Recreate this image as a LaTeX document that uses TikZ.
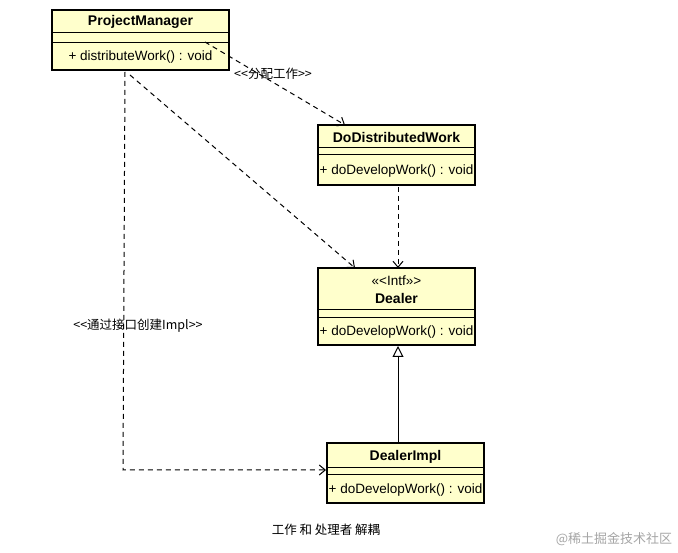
\documentclass[tikz,border=0pt]{standalone}
\usepackage{fontspec}
\setmainfont{Liberation Sans}
\newfontfamily\cjk{Noto Sans CJK SC}
\usetikzlibrary{arrows.meta}
\tikzset{
  cls/.style={draw=black, line width=2pt, fill=umlfill, rectangle, inner sep=0pt},
  nm/.style={font=\fontsize{14}{16}\selectfont\bfseries},
  op/.style={font=\fontsize{13.5}{16}\selectfont},
  dep/.style={line width=1pt, dash pattern=on 5pt off 4pt, -{Straight Barb[length=6pt,width=10pt]}},
  inh/.style={line width=1pt, -{Triangle[open,length=11pt,width=11pt]}},
  lbl/.style={font=\fontsize{12.5}{15}\cjk}
}
\definecolor{umlfill}{RGB}{255,255,204}
\begin{document}
\begin{tikzpicture}[x=1pt,y=-1pt]
\useasboundingbox[fill=white] (0,0) rectangle (678,553);
% ProjectManager
\node[cls, minimum width=177, minimum height=60] (pm) at (140.5,40) {};
\draw[line width=1pt] (52,33) -- (229,33) (52,43) -- (229,43);
\node[nm] (pmn) at (140.5,22) {ProjectManager};
\node[op] (pmo) at (140.5,57) {+ distributeWork() : void};
% DoDistributedWork
\node[cls, minimum width=157, minimum height=60] (dw) at (396.5,155) {};
\draw[line width=1pt] (318,148) -- (475,148) (318,155) -- (475,155);
\node[nm] (dwn) at (396.5,137) {DoDistributedWork};
\node[op] (dwo) at (396.5,171) {+ doDevelopWork() : void};
% Dealer
\node[cls, minimum width=157, minimum height=77] (dl) at (396.5,306.5) {};
\draw[line width=1pt] (318,310) -- (475,310) (318,318) -- (475,318);
\node[op] (dls) at (396.5,281) {\textless\textless\textless Intf\textgreater\textgreater\textgreater};
\node[nm] (dln) at (396.5,298) {Dealer};
\node[op] (dlo) at (396.5,332) {+ doDevelopWork() : void};
% DealerImpl
\node[cls, minimum width=157, minimum height=60] (di) at (405.5,473) {};
\draw[line width=1pt] (327,468) -- (484,468) (327,475) -- (484,475);
\node[nm] (din) at (405.5,457) {DealerImpl};
\node[op] (dio) at (405.5,490) {+ doDevelopWork() : void};
% connectors
\coordinate (c1) at (123,470);
\draw[dep] (205,42) -- (345,125);
\draw[dep] (130,75) -- (355,268);
\draw[dep] (398,187) -- (398,268);
\draw[dep] (125,72) -- (c1) -- (di.west |- c1);
\draw[inh] (di.north -| 398,0) -- (dl.south -| 398,0);
\node[lbl] (l1) at (273,74) {\textless\textless 分配工作\textgreater\textgreater};
\node[lbl] (l2) at (138,326) {\textless\textless 通过接口创建Impl\textgreater\textgreater};
\node[font=\fontsize{12.5}{15}\cjk] (cap) at (326,530) {工作 和 处理者 解耦};
\node[font=\fontsize{13}{15}\cjk, text=black!35] (wm) at (614,539) {@稀土掘金技术社区};
\end{tikzpicture}
\end{document}
